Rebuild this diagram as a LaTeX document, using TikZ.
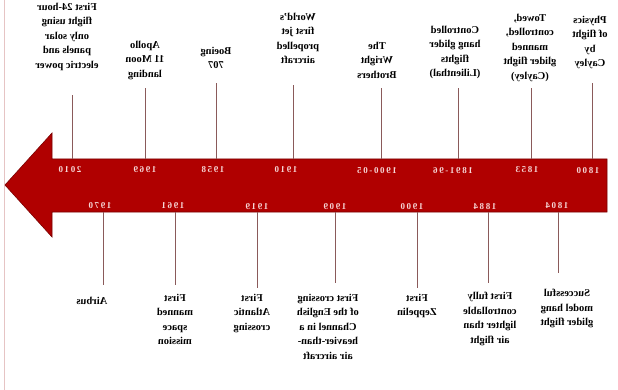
\documentclass[tikz,border=0pt]{standalone}
\usepackage{fontspec}
\setmainfont{Liberation Serif}
\definecolor{arrowred}{HTML}{B00000}
\definecolor{arrowedge}{HTML}{7A0000}
\definecolor{tickcol}{HTML}{8A5A5A}
\definecolor{yearcol}{HTML}{F6D6D6}
\definecolor{framecol}{HTML}{E6C4C4}
\begin{document}
\begin{tikzpicture}[x=1pt,y=-1pt,
  lbl/.style={inner sep=0pt, text=black, anchor=north, align=center,
    font=\fontsize{10.5}{14.5}\selectfont\bfseries},
  year/.style={inner sep=0pt, text=yearcol,
    font=\fontsize{9}{10}\selectfont\bfseries\addfontfeature{LetterSpace=18}},
  tick/.style={draw=tickcol, line width=0.9pt},
  mirror/.style={xscale=-1, transform shape}]
\useasboundingbox (0,0) rectangle (618,390);
\fill[white] (0,0) rectangle (618,390);
% left frame line
\draw[framecol, line width=1.2pt] (4.5,0) -- (4.5,390);
% arrow
\filldraw[fill=arrowred, draw=arrowedge, line width=0.6pt]
  (52,159) -- (607,159) -- (607,212) -- (52,212) -- (52,237) -- (5,185) -- (52,133) -- cycle;
\begin{scope}[mirror]
% top labels
\node[lbl] (l2010) at (-67,3) {First 24-hour\\flight using\\only solar\\panels and\\electric power};
\node[lbl] (l1969) at (-145,41) {Apollo\\11 Moon\\landing};
\node[lbl] (l1958) at (-216,47) {Boeing\\707};
\node[lbl] (l1910) at (-298,13) {World's\\first jet\\propelled\\aircraft};
\node[lbl] (l1900) at (-377,42) {The\\Wright\\Brothers};
\node[lbl] (l1891) at (-455,26) {Controlled\\hang glider\\flights\\(Lilienthal)};
\node[lbl] (l1853) at (-530,14) {Towed,\\controlled,\\manned\\glider flight\\(Cayley)};
\node[lbl] (l1800) at (-590,16) {Physics\\of flight\\by\\Cayley};
% bottom labels
\node[lbl] (b1970) at (-92,297) {Airbus};
\node[lbl] (b1961) at (-175,294) {First\\manned\\space\\mission};
\node[lbl] (b1919) at (-252,294) {First\\Atlantic\\crossing};
\node[lbl] (b1909) at (-328,294) {First crossing\\of the English\\Channel in a\\heavier-than-\\air aircraft};
\node[lbl] (b1900) at (-417,294) {First\\Zeppelin};
\node[lbl] (b1884) at (-490,292) {First fully\\controllable\\lighter than\\air flight};
\node[lbl] (b1804) at (-567,289) {Successful\\model hang\\glider flight};
% years above
\node[year] (y2010) at (-70,170) {2010};
\node[year] (y1969) at (-145,170) {1969};
\node[year] (y1958) at (-213,170) {1958};
\node[year] (y1910) at (-286,170) {1910};
\node[year] (y1900a) at (-377,171) {1900-05};
\node[year] (y1891) at (-453,171) {1891-96};
\node[year] (y1853) at (-527,170) {1853};
\node[year] (y1800) at (-588,171) {1800};
% years below
\node[year] (y1970) at (-100,206) {1970};
\node[year] (y1961) at (-173,206) {1961};
\node[year] (y1919) at (-257,207) {1919};
\node[year] (y1909) at (-335,207) {1909};
\node[year] (y1900b) at (-412,207) {1900};
\node[year] (y1884) at (-485,207) {1884};
\node[year] (y1804) at (-557,206) {1804};
\end{scope}
% top ticks
\foreach \n/\x/\y in {a/72/95, b/145/88, c/216/83, d/293/85, e/381/88, f/458/88, g/531/88, h/592/83}{
  \coordinate (tt\n) at (\x,\y);
  \coordinate (tb\n) at (\x,159);
  \draw[tick] (tb\n) -- (tt\n);
}
% bottom ticks
\foreach \n/\x/\y in {a/103/285, b/175/285, c/257/288, d/335/283, e/417/288, f/488/283, g/558/273}{
  \coordinate (bt\n) at (\x,212);
  \coordinate (bb\n) at (\x,\y);
  \draw[tick] (bt\n) -- (bb\n);
}
\end{tikzpicture}
\end{document}
